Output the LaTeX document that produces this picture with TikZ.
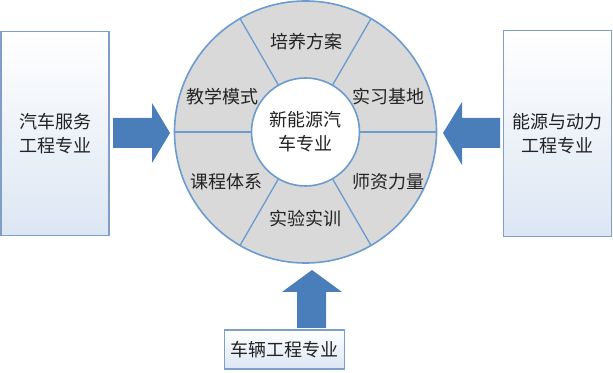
\documentclass[tikz,border=0pt]{standalone}
\usepackage{fontspec}
\usetikzlibrary{calc}
\newfontfamily\cjk{Noto Sans CJK SC}
\definecolor{boxline}{HTML}{7F9FC8}
\definecolor{boxbot}{HTML}{DCE6F3}
\definecolor{arrowblue}{HTML}{4A7EBB}
\definecolor{ringgray}{HTML}{D9D9D9}
\definecolor{ringline}{HTML}{6C9BCF}
\definecolor{txt}{HTML}{222222}
\tikzset{
  txtstyle/.style={font=\cjk\fontsize{13.5}{18}\selectfont, text=txt, align=center},
  sidebox/.style={draw=boxline, line width=1.1pt, top color=white, bottom color=boxbot, inner sep=0pt, txtstyle},
  blockarrow/.style={fill=arrowblue, draw=none},
  ringdiv/.style={draw=ringline, line width=1pt},
}
\begin{document}
\begin{tikzpicture}[x=0.75pt, y=-0.75pt]
\useasboundingbox (0,0) rectangle (613,373);
% boxes
\node[sidebox, minimum width=108*0.75pt, minimum height=204*0.75pt] (L) at (55,133.5) {汽车服务\\工程专业};
\node[sidebox, minimum width=108*0.75pt, minimum height=206*0.75pt] (R) at (557.5,133.5) {能源与动力\\工程专业};
\node[sidebox, minimum width=120*0.75pt, minimum height=39*0.75pt] (B) at (284.5,349.5) {车辆工程专业};
% ring
\coordinate (C) at (305.5,132);
\fill[ringgray] (C) circle[radius=131*0.75pt];
\foreach \a in {0,60,...,300}
  \draw[ringdiv] ($(C)+(\a:54*0.75pt)$) -- ($(C)+(\a:131*0.75pt)$);
\draw[draw=ringline, line width=1.2pt] (C) circle[radius=131*0.75pt];
\node[circle, draw=ringline, line width=1.2pt, fill=white, minimum size=108*0.75pt, inner sep=0pt, txtstyle] (core) at (C) {新能源汽\\车专业};
% ring labels
\node[txtstyle] (s1) at (306,42) {培养方案};
\node[txtstyle] (s2) at (388,97) {实习基地};
\node[txtstyle] (s3) at (388,182) {师资力量};
\node[txtstyle] (s4) at (305,219) {实验实训};
\node[txtstyle] (s5) at (226,182) {课程体系};
\node[txtstyle] (s6) at (222,97) {教学模式};
% arrows
\fill[blockarrow] (113,118) -- (152,118) -- (152,103) -- (170,133) -- (152,163) -- (152,148) -- (113,148) -- cycle;
\fill[blockarrow] (500,118) -- (462,118) -- (462,102) -- (443,133) -- (462,165) -- (462,148) -- (500,148) -- cycle;
\fill[blockarrow] (297,328) -- (297,292) -- (282,292) -- (312,270) -- (342,292) -- (326,292) -- (326,328) -- cycle;
\end{tikzpicture}
\end{document}
